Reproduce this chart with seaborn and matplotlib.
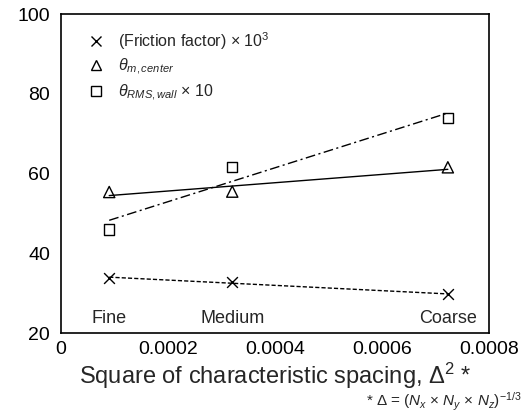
import numpy as np
import pandas as pd
import matplotlib
matplotlib.use("Agg")
import matplotlib.pyplot as plt
from matplotlib.lines import Line2D
import seaborn as sns

# Grid resolutions and their squared characteristic spacing
grids = ["Fine", "Medium", "Coarse"]
delta_sq = [0.00009, 0.00032, 0.000723]

# Quantities on each grid
friction_x1e3 = [33.8, 32.9, 29.7]
theta_m_center = [55.4, 55.5, 61.6]
theta_rms_wall_x10 = [46.0, 61.7, 73.9]

series_labels = [
    "(Friction factor) × 10$^3$",
    r"$\theta_{m,center}$",
    r"$\theta_{RMS,wall}$ × 10",
]

sns.set_theme(style="white")
plt.rcParams["font.family"] = ["Liberation Sans", "DejaVu Sans"]
plt.rcParams["mathtext.fontset"] = "custom"
plt.rcParams["mathtext.it"] = "Liberation Sans:italic"
plt.rcParams["mathtext.rm"] = "Liberation Sans"

fig, ax = plt.subplots(figsize=(5.31, 4.18), dpi=100)
fig.subplots_adjust(left=0.115, right=0.921, top=0.966, bottom=0.203)

all_series = [friction_x1e3, theta_m_center, theta_rms_wall_x10]
marker_list = ["x", "^", "s"]
sizes = [60, 65, 55]
styles = [(0, (3, 1.5)), "-", (0, (7, 2.5, 1.5, 2.5))]
xs = np.array(delta_sq)

for vals, mk, sz, ls in zip(all_series, marker_list, sizes, styles):
    df = pd.DataFrame({"x": delta_sq, "y": vals})
    if mk == "x":
        sns.scatterplot(data=df, x="x", y="y", marker=mk, color="black",
                        s=sz, linewidth=1.0, ax=ax, zorder=3)
    else:
        sns.scatterplot(data=df, x="x", y="y", marker=mk, facecolor="none",
                        edgecolor="black", s=sz, linewidth=1.0, ax=ax, zorder=3)
    # Linear trend line across the grid range
    k, b = np.polyfit(xs, vals, 1)
    xx = np.array([xs.min(), xs.max()])
    ax.plot(xx, k * xx + b, color="black", lw=1.0, linestyle=ls, zorder=2)

# Legend without frame
handles = [
    Line2D([], [], marker="x", color="black", linestyle="none", markersize=7, mew=1.0),
    Line2D([], [], marker="^", markerfacecolor="none", markeredgecolor="black",
           linestyle="none", markersize=7, mew=1.0),
    Line2D([], [], marker="s", markerfacecolor="none", markeredgecolor="black",
           linestyle="none", markersize=6.5, mew=1.0),
]
ax.legend(handles, series_labels, loc="upper left", bbox_to_anchor=(0.047, 0.97),
          borderaxespad=0, frameon=False, fontsize=11.5, handlelength=1.0,
          handletextpad=0.9, labelspacing=0.32)

# Grid names under each point
for g, x in zip(grids, delta_sq):
    ax.text(x, 21.5, g, ha="center", va="bottom", fontsize=13)

ax.set_xlim(0, 0.0008)
ax.set_ylim(20, 100)
ax.set_xticks([0, 0.0002, 0.0004, 0.0006, 0.0008])
ax.set_xticklabels(["0", "0.0002", "0.0004", "0.0006", "0.0008"])
ax.set_yticks([20, 40, 60, 80, 100])
ax.tick_params(axis="both", direction="in", length=5, width=1, labelsize=14,
               colors="black", pad=6)
ax.tick_params(axis="y", pad=8)
for sp in ax.spines.values():
    sp.set_color("black")
    sp.set_linewidth(1.2)

ax.set_xlabel("Square of characteristic spacing, Δ$^2$ *", fontsize=17, labelpad=2)
ax.set_ylabel("")

fig.text(0.983, 0.012,
         r"* Δ = ($N_x$ × $N_y$ × $N_z$)$^{-1/3}$",
         ha="right", va="bottom", fontsize=11)

fig.savefig("out.png", dpi=100)
